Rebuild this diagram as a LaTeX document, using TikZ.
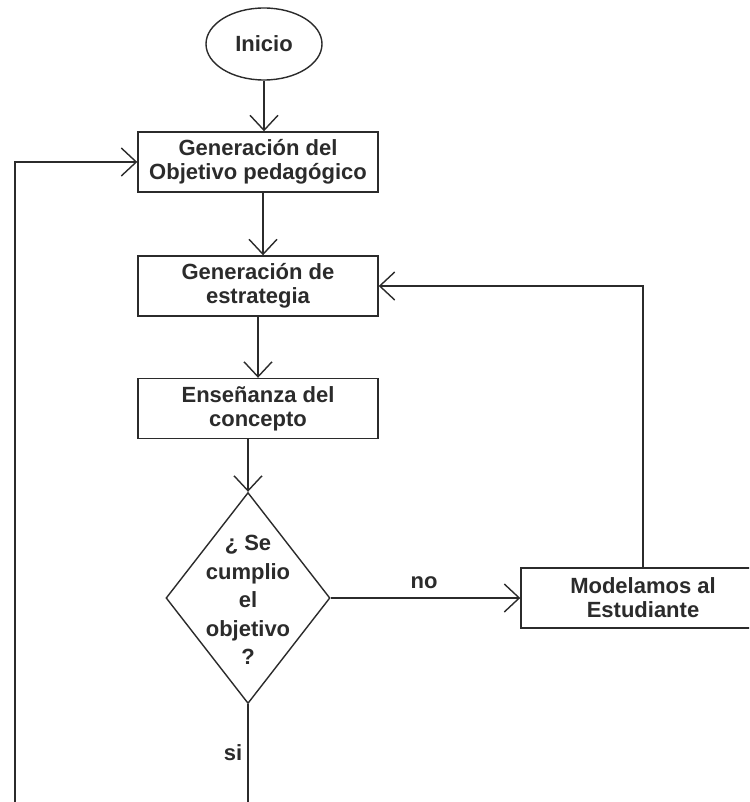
\documentclass[tikz,border=0pt]{standalone}
\usepackage{fontspec}
\setmainfont{Liberation Sans}
\usetikzlibrary{shapes.geometric,arrows.meta}
\definecolor{ink}{HTML}{2B2B2B}
\begin{document}
\begin{tikzpicture}[x=1pt,y=-1pt,
  line width=1.4pt, color=ink,
  every node/.style={font=\bfseries\fontsize{22}{24}\selectfont, text=ink},
  stepbox/.style={draw, rectangle, minimum width=240pt, minimum height=60pt,
                  inner sep=0pt, align=center},
  startnode/.style={draw, ellipse, minimum width=116pt, minimum height=72pt, inner sep=0pt},
  decision/.style={draw, diamond, minimum width=164pt, minimum height=211pt, inner sep=0pt},
  decisiontext/.style={align=center, font=\bfseries\fontsize{22}{28.5}\selectfont},
  arr/.style={-{Straight Barb[length=15pt,width=28pt]}}]

% page area
\fill[white] (0,0) rectangle (749,802);
\useasboundingbox (0,0) rectangle (749,802);
\clip (0,0) rectangle (749,802);

% nodes
\node[startnode] (start) at (264,44) {Inicio};
\node[stepbox] (g) at (258,162) {Generación del\\Objetivo pedagógico};
\node[stepbox] (s) at (258,286) {Generación de\\estrategia};
\node[stepbox] (e) at (258,408.5) {Enseñanza del\\concepto};
\node[decision] (q) at (248,598) {};
\node[decisiontext] (qtext) at (248,600) {¿ Se\\cumplio\\el\\objetivo\\?};
\node[stepbox, minimum width=244pt] (m) at (643,598) {Modelamos al\\Estudiante};

% free ends running off the lower edge
\coordinate (loopend) at (15,812);
\coordinate (siend) at (248,812);

% main flow
\draw[arr] (start.south) -- (start.south |- g.north);
\draw[arr] ([xshift=5pt]g.south) -- ([xshift=5pt]s.north);
\draw[arr] (s.south) -- (e.north);
\draw[arr] (e.south -| q.north) -- (q.north);

% "no" branch and return to the strategy step
\draw[arr] (q.east) -- (m.west);
\node (nolbl) at (424,583) {no};
\draw[arr] (m.north) |- (s.east);

% "si" branch and return to the objective step
\draw (q.south) -- (siend);
\node (silbl) at (233,753) {si};
\draw[arr] (loopend) |- (g.west);
\end{tikzpicture}
\end{document}
